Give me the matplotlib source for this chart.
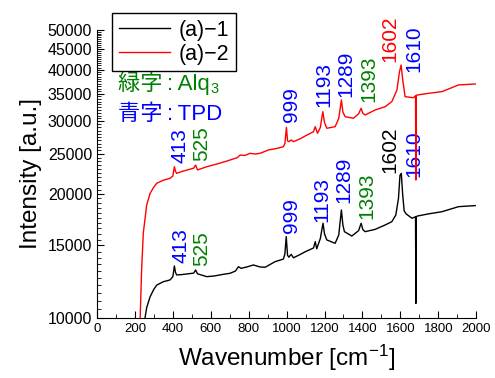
"""Raman spectra (a)-1 / (a)-2 with Alq3 / TPD peak labels."""

import matplotlib

matplotlib.use("Agg")
import matplotlib.pyplot as plt
from matplotlib.ticker import MultipleLocator, FuncFormatter

plt.rcParams["font.family"] = ["Liberation Sans", "Noto Sans CJK JP", "DejaVu Sans"]
plt.rcParams["axes.unicode_minus"] = False
plt.rcParams["mathtext.fontset"] = "custom"
plt.rcParams["mathtext.rm"] = "Liberation Sans"
plt.rcParams["mathtext.it"] = "Liberation Sans"

# spectrum (a)-1
x1 = [250, 262, 280, 300, 315, 350, 385, 400, 408, 414, 420, 450, 480, 510, 520, 530,
      579, 620, 660, 702, 730, 746, 760, 790, 825, 860, 887, 939, 983, 991, 998, 1005,
      1012, 1024, 1036, 1070, 1098, 1142, 1151, 1159, 1178, 1192, 1200, 1212, 1256, 1275,
      1289, 1297, 1305, 1344, 1380, 1393, 1402, 1414, 1467, 1520, 1555, 1576, 1590, 1598,
      1605, 1612, 1620, 1630, 1661, 1680, 1682, 1684, 1690, 1750, 1819, 1907, 1995]
y1 = [9800, 10600, 11260, 11750, 12020, 12250, 12370, 12600, 13380, 12900, 12720, 12750,
      12800, 12850, 13080, 12800, 12600, 12650, 12750, 12840, 13000, 13320, 13200, 13300,
      13450, 13300, 13280, 13700, 13900, 14300, 15760, 14200, 14050, 14270, 14000, 14250,
      14480, 14790, 15320, 14720, 15600, 16980, 16000, 15470, 15180, 15900, 18290, 16800,
      16200, 15810, 16300, 16980, 16400, 16200, 16410, 16820, 17130, 17780, 19500, 22200,
      22440, 20000, 18200, 17900, 17460, 17600, 10850, 17620, 17680, 17900, 18110, 18630,
      18740]

# spectrum (a)-2
x2 = [227, 235, 244, 262, 280, 300, 315, 350, 385, 400, 408, 414, 420, 450, 480, 510, 520,
      530, 580, 632, 680, 702, 740, 755, 780, 807, 834, 860, 904, 950, 983, 991, 999, 1005,
      1012, 1024, 1036, 1070, 1098, 1142, 1151, 1163, 1178, 1191, 1200, 1212, 1256, 1275,
      1289, 1297, 1309, 1353, 1380, 1393, 1402, 1414, 1467, 1520, 1555, 1582, 1595, 1604,
      1612, 1625, 1669, 1680, 1682, 1684, 1690, 1750, 1819, 1907, 1995]
y2 = [9800, 13000, 16050, 18800, 20070, 20800, 21230, 21600, 21830, 22100, 23290, 22700,
      22440, 22700, 22900, 23100, 23510, 22870, 23300, 23640, 24000, 24180, 24500, 24860,
      24800, 25100, 25000, 25100, 25570, 25800, 26050, 26500, 29030, 26900, 26790, 27040,
      26790, 27200, 27650, 28320, 29130, 28070, 29000, 31670, 29800, 28870, 29130, 30500,
      33820, 31600, 30800, 30530, 31300, 32280, 31400, 31090, 31980, 32570, 33500, 35760,
      39500, 41110, 38000, 34440, 34250, 34600, 21620, 34700, 34770, 35100, 35420, 36780,
      36980]

# peak labels: text, x, y (bottom of label), colour key
labels_text = ["413", "525", "999", "1193", "1289", "1393", "1602", "1610",
               "413", "525", "999", "1193", "1289", "1393", "1602", "1610"]
labels_x = [438, 551, 1026, 1195, 1314, 1433, 1546, 1673,
            443, 554, 1024, 1187, 1301, 1422, 1546, 1673]
labels_y = [23780, 24050, 29910, 32520, 34390, 33440, 41810, 39540,
            13600, 13370, 16080, 17100, 19020, 17390, 22480, 21990]
labels_kind = ["tpd", "alq", "tpd", "tpd", "tpd", "alq", "red", "tpd",
               "tpd", "alq", "tpd", "tpd", "tpd", "alq", "black", "tpd"]

colors = {"tpd": "#0000ff", "alq": "#008000", "red": "#ff0000", "black": "#000000"}

fig = plt.figure(figsize=(4.95, 3.78), dpi=100)
ax = fig.add_axes([0.196, 0.1587, 0.766, 0.762])

ax.plot(x1, y1, color="black", linewidth=1.0, label="(a)−1", zorder=2)
ax.plot(x2, y2, color="#ff0000", linewidth=1.0, label="(a)−2", zorder=2)

for t, lx, ly, k in zip(labels_text, labels_x, labels_y, labels_kind):
    ax.text(lx, ly, t, rotation=90, ha="center", va="bottom", fontsize=15,
            color=colors[k], zorder=1)

alq = ax.text(0.055, 0.815, "緑字\u2009:\u2009Alq", transform=ax.transAxes, fontsize=16,
              color="#008000", va="center", ha="left")
ax.text(0.055, 0.705, "青字\u2009:\u2009TPD", transform=ax.transAxes, fontsize=16,
        color="#0000ff", va="center", ha="left")

ax.set_yscale("log")
ax.set_xlim(0, 2000)
ax.set_ylim(10000, 50000)
ax.yaxis.set_major_locator(MultipleLocator(5000))
ax.yaxis.set_minor_locator(MultipleLocator(500))
ax.yaxis.set_major_formatter(FuncFormatter(lambda v, p: f"{v:.0f}"))
ax.yaxis.set_minor_formatter(FuncFormatter(lambda v, p: ""))
ax.xaxis.set_major_locator(MultipleLocator(200))
ax.xaxis.set_minor_locator(MultipleLocator(100))

ax.spines["top"].set_visible(False)
ax.spines["right"].set_visible(False)
ax.tick_params(which="both", direction="in")
ax.tick_params(which="major", length=5)
ax.tick_params(which="minor", length=3)
ax.tick_params(axis="y", labelsize=11.5)
ax.tick_params(axis="x", labelsize=9.5)

ax.set_xlabel("Wavenumber [cm$^{-1}$]", fontsize=17.5, labelpad=6)
ax.set_ylabel("Intensity [a.u.]", fontsize=17.5)

leg = ax.legend(loc="upper left", bbox_to_anchor=(0.04, 1.058), borderaxespad=0,
                fontsize=15.5, handlelength=2.4, handletextpad=0.4, labelspacing=0.15,
                fancybox=False, framealpha=1, edgecolor="black", borderpad=0.3)
leg.get_frame().set_linewidth(1.0)

# subscript "3" of Alq3, placed right after the text
fig.canvas.draw()
bb = alq.get_window_extent()
fig.text((bb.x1 + 1) / fig.bbox.width, (bb.y0 - 1) / fig.bbox.height, "3",
         fontsize=10.5, color="#008000", ha="left", va="bottom")

fig.savefig("out.png", dpi=100)
